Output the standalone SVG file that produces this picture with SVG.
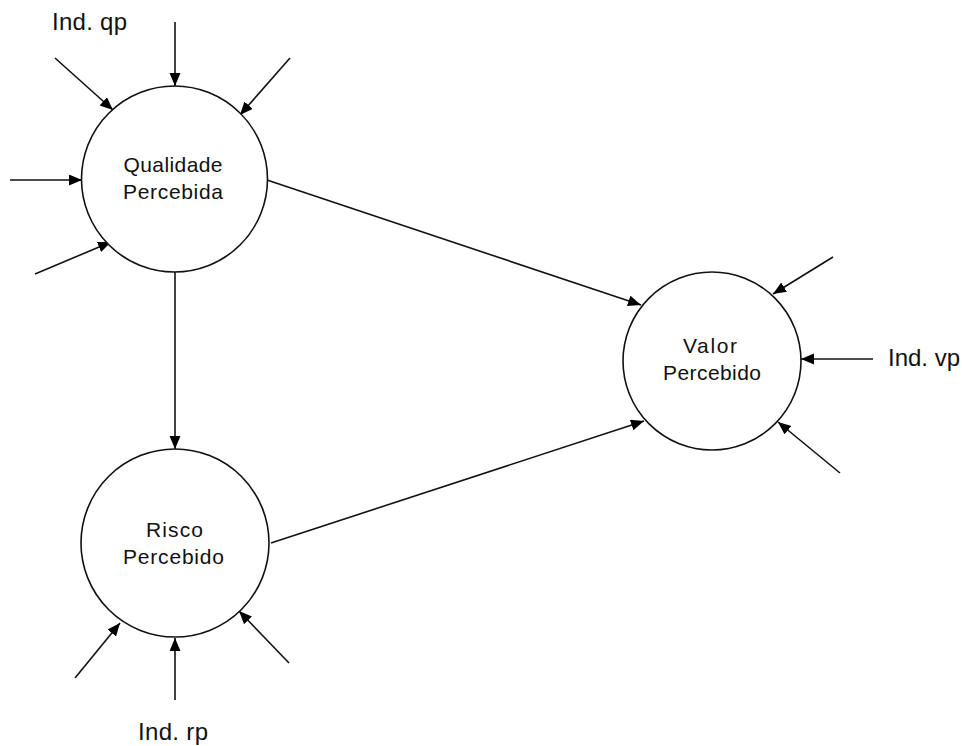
<svg xmlns="http://www.w3.org/2000/svg" width="962" height="746" viewBox="0 0 962 746">
<style>
.node{fill:#fff;stroke:#111;stroke-width:1.6}
.lbl{font-family:"Liberation Sans",Arial,sans-serif;font-size:21px;fill:#111;text-anchor:middle}
.ind{font-family:"Liberation Sans",Arial,sans-serif;font-size:24px;fill:#111}
.edge{stroke:#111;stroke-width:1.6;fill:none;marker-end:url(#ah)}
</style>
<defs>
<marker id="ah" markerUnits="userSpaceOnUse" markerWidth="14" markerHeight="12" refX="13" refY="5.5" orient="auto">
<path d="M0,0 L13,5.5 L0,11 z" fill="#000"/>
</marker>
</defs>
<rect width="962" height="746" fill="#fff"/>
<g id="connectors">
<line class="edge" x1="175" y1="22" x2="175" y2="86"/>
<line class="edge" x1="55" y1="58" x2="113" y2="110"/>
<line class="edge" x1="290" y1="58" x2="240" y2="115"/>
<line class="edge" x1="10" y1="180" x2="82" y2="180"/>
<line class="edge" x1="35" y1="274" x2="111" y2="242"/>
<line class="edge" x1="175" y1="272" x2="175" y2="449"/>
<line class="edge" x1="267" y1="180" x2="641" y2="305"/>
<line class="edge" x1="271" y1="543" x2="644" y2="421"/>
<line class="edge" x1="833" y1="257" x2="773" y2="294"/>
<line class="edge" x1="873" y1="359" x2="801" y2="359"/>
<line class="edge" x1="840" y1="473" x2="778" y2="422"/>
<line class="edge" x1="75" y1="678" x2="120" y2="623"/>
<line class="edge" x1="175" y1="700" x2="175" y2="638"/>
<line class="edge" x1="289" y1="663" x2="239" y2="611"/>
</g>
<g id="qualidade">
<circle class="node" cx="174.5" cy="179" r="93"/>
<text class="lbl" x="173" y="172" textLength="99" lengthAdjust="spacing">Qualidade</text>
<text class="lbl" x="173" y="199" textLength="100" lengthAdjust="spacing">Percebida</text>
</g>
<g id="valor">
<circle class="node" cx="712" cy="361" r="89"/>
<text class="lbl" x="710" y="353" textLength="54" lengthAdjust="spacing">Valor</text>
<text class="lbl" x="712" y="380" textLength="98" lengthAdjust="spacing">Percebido</text>
</g>
<g id="risco">
<circle class="node" cx="175" cy="543" r="94"/>
<text class="lbl" x="174.5" y="537" textLength="57" lengthAdjust="spacing">Risco</text>
<text class="lbl" x="173.5" y="564" textLength="101" lengthAdjust="spacing">Percebido</text>
</g>
<g id="labels">
<text class="ind" x="52" y="30" textLength="75" lengthAdjust="spacing">Ind. qp</text>
<text class="ind" x="888" y="366" textLength="72" lengthAdjust="spacing">Ind. vp</text>
<text class="ind" x="138" y="740" textLength="70" lengthAdjust="spacing">Ind. rp</text>
</g>
</svg>
